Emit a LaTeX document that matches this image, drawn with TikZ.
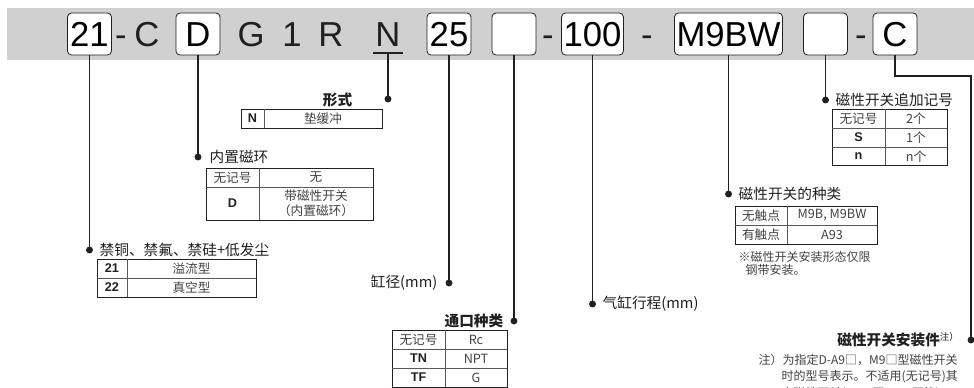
\documentclass[tikz,border=0pt]{standalone}
\usepackage{fontspec}
\setmainfont{Noto Sans CJK SC}
\newfontfamily\lat{Liberation Sans}
\definecolor{band}{RGB}{208,208,208}
\definecolor{ink}{RGB}{35,31,32}

\begin{document}
\begin{tikzpicture}[x=0.75pt,y=-0.75pt,
  code/.style={draw=ink, fill=white, rounded corners=3pt, line width=0.6pt,
    minimum width=33pt, minimum height=31.5pt, inner sep=1.5pt,
    text height=18.6pt, text depth=0pt,
    font=\lat\fontsize{26}{26}\selectfont},
  letter/.style={font=\lat\fontsize{26}{26}\selectfont, text=ink,
    text height=18.6pt, text depth=0pt},
  lead/.style={draw=ink, line width=0.9pt},
  head/.style={font=\fontsize{11}{13}\selectfont, text=ink},
  bhead/.style={font=\bfseries\fontsize{11}{13}\selectfont, text=ink},
  cell/.style={font=\fontsize{9.5}{11}\selectfont, text=ink!85, align=center},
  key/.style={font=\lat\bfseries\fontsize{9.5}{11}\selectfont, text=ink},
  tab/.style={draw=ink, line width=0.7pt},
  rule/.style={draw=ink!75, line width=0.45pt},
  note/.style={font=\fontsize{9}{12}\selectfont, text=ink!85, anchor=west}]
\useasboundingbox (0,0) rectangle (974,388);
\fill[band] (7,8) rectangle (974,60);

% model code
\node[code] (b21) at (89.5,34) {21};
\node[letter] (h1) at (121,34) {-};
\node[letter] (lC) at (147,34) {C};
\node[code] (bD) at (198,34) {D};
\node[letter] (lG) at (251,34) {G};
\node[letter] (l1) at (292,34) {1};
\node[letter] (lR) at (331,34) {R};
\node[letter] (lN) at (388,34) {N};
\draw[ink, line width=0.9pt] (373,53) -- (403,53);
\coordinate (uN) at (388,53);
\node[code] (b25) at (449,34) {25};
\node[code] (bport) at (514,34) {};
\node[letter] (h2) at (548,34) {-};
\node[code] (b100) at (592.5,34) {100};
\node[letter] (h3) at (647,34) {-};
\node[code] (bsw) at (728.5,34) {M9BW};
\node[code] (bnum) at (825.5,34) {};
\node[letter] (h4) at (861,34) {-};
\node[code] (bC) at (895,34) {C};

% dots
\coordinate (d21) at (89.5,250);
\coordinate (dD) at (198,157);
\coordinate (dN) at (388,99);
\coordinate (d25) at (449,283);
\coordinate (dport) at (514,321);
\coordinate (d100) at (592.5,304);
\coordinate (dsw) at (728.5,194);
\coordinate (dnum) at (825.5,100);
\coordinate (cC) at (971,76);
\coordinate (dC) at (971,340);

\draw[lead] (b21) -- (d21);
\draw[lead] (bD) -- (dD);
\draw[lead] (uN) -- (dN);
\draw[lead] (b25) -- (d25);
\draw[lead] (bport) -- (dport);
\draw[lead] (b100) -- (d100);
\draw[lead] (bsw) -- (dsw);
\draw[lead] (bnum) -- (dnum);
\draw[lead] (bC.south) |- (cC) -- (dC);
\foreach \d in {d21,dD,dN,d25,dport,d100,dsw,dnum,dC}
  \fill[ink] (\d) circle (2.6pt);

% type
\node[bhead] (tN) at (337.5,100) {形式};
\draw[tab] (241,109) rectangle (382,128);
\draw[rule] (264,109) -- (264,128);
\node[key] (kN) at (252.5,118.5) {N};
\node[cell] (vN) at (323,118.5) {垫缓冲};

% magnet
\node[head, anchor=west] (tD) at (205,157) {内置磁环};
\draw[tab] (206,168) rectangle (373,220);
\draw[rule] (206,187) -- (373,187) (259,168) -- (259,220);
\node[cell] (kD0) at (232.5,177.5) {无记号};
\node[cell] (vD0) at (316,177.5) {无};
\node[key] (kD1) at (232.5,203.5) {D};
\node[cell] (vD1) at (316,203.5) {带磁性开关\\（内置磁环）};

% environment
\node[head, anchor=west] (t21) at (95,250) {禁铜、禁氟、禁硅+低发尘};
\draw[tab] (97,259) rectangle (256,297);
\draw[rule] (97,278) -- (256,278) (127,259) -- (127,297);
\node[key] (k21) at (112,268.5) {21};
\node[cell] (v21) at (191.5,268.5) {溢流型};
\node[key] (k22) at (112,287.5) {22};
\node[cell] (v22) at (191.5,287.5) {真空型};

% bore
\node[head, anchor=east] (t25) at (442,283) {缸径(mm)};

% port
\node[bhead, anchor=east] (tport) at (508,321) {通口种类};
\draw[tab] (392,330) rectangle (507,387);
\draw[rule] (392,349) -- (507,349) (392,368) -- (507,368) (445,330) -- (445,387);
\node[cell] (kP0) at (418.5,339.5) {无记号};
\node[cell] (vP0) at (476,339.5) {Rc};
\node[key] (kP1) at (418.5,358.5) {TN};
\node[cell] (vP1) at (476,358.5) {NPT};
\node[key] (kP2) at (418.5,377.5) {TF};
\node[cell] (vP2) at (476,377.5) {G};

% stroke
\node[head, anchor=west] (t100) at (598,304) {气缸行程(mm)};

% switch
\node[head, anchor=west] (tsw) at (734,194) {磁性开关的种类};
\draw[tab] (735,206) rectangle (877,244);
\draw[rule] (735,225) -- (877,225) (787,206) -- (787,244);
\node[cell] (kS0) at (761,215.5) {无触点};
\node[cell] (vS0) at (832,215.5) {M9B, M9BW};
\node[cell] (kS1) at (761,234.5) {有触点};
\node[cell] (vS1) at (832,234.5) {A93};
\node[note] (nsw1) at (734,257) {※磁性开关安装形态仅限};
\node[note] (nsw2) at (741,270) {钢带安装。};

% number of switches
\node[head, anchor=west] (tnum) at (831,100) {磁性开关追加记号};
\draw[tab] (832,109) rectangle (947,165);
\draw[rule] (832,128) -- (947,128) (832,147) -- (947,147) (885,109) -- (885,165);
\node[cell] (kM0) at (858.5,118.5) {无记号};
\node[cell] (vM0) at (916,118.5) {2个};
\node[key] (kM1) at (858.5,137.5) {S};
\node[cell] (vM1) at (916,137.5) {1个};
\node[key] (kM2) at (858.5,156.5) {n};
\node[cell] (vM2) at (916,156.5) {n个};

% mounting bracket
\node[bhead, anchor=east] (tC) at (964,340) {磁性开关安装件\textsuperscript{\normalfont\fontsize{7}{8}\selectfont 注）}};
\node[note] (nC1) at (754,360) {注）为指定D-A9□，M9□型磁性开关};
\node[note] (nC2) at (777,377) {时的型号表示。不适用(无记号)其};
\node[note] (nC3) at (777,394) {它磁性开关(D-C7□、H7□等)};
\end{tikzpicture}
\end{document}
